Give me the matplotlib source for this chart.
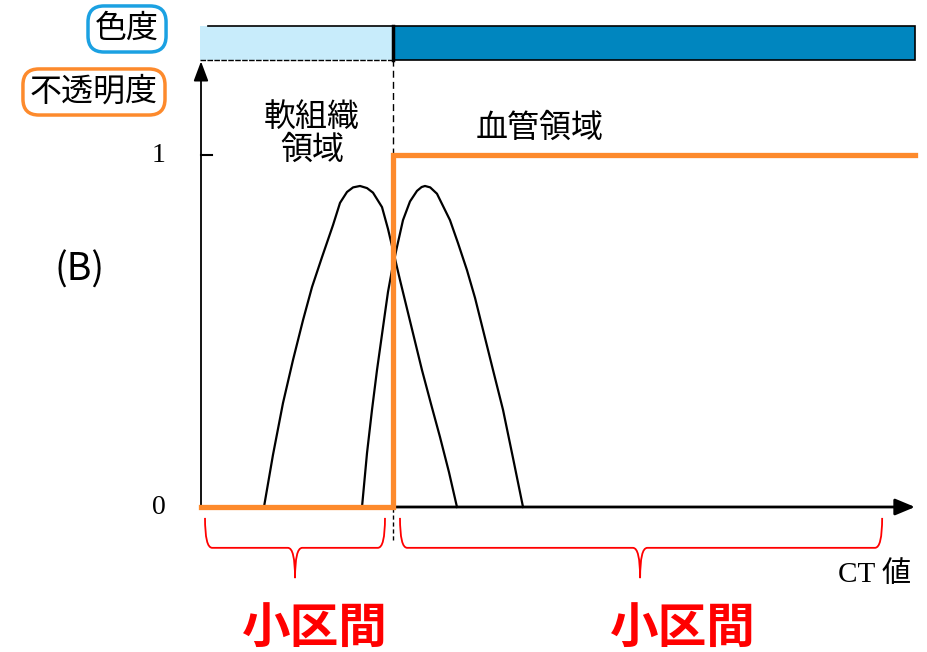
import matplotlib
matplotlib.use("Agg")
import matplotlib.pyplot as plt
from matplotlib.patches import Rectangle
from matplotlib.path import Path
from matplotlib.patches import PathPatch

plt.rcParams['font.family'] = ['Noto Sans CJK JP', 'DejaVu Sans']

# ---- data (CT value axis 0..100, opacity 0..1) ----
soft_x = [8.82, 10.08, 11.48, 12.89, 14.29, 15.55, 16.95, 18.49, 19.47, 20.45, 21.30, 22.27,
          23.25, 24.09, 25.35, 26.19, 27.87, 29.41, 30.95, 32.21, 33.47, 34.73, 35.85]
soft_y = [0.0, 0.148, 0.295, 0.418, 0.531, 0.625, 0.710, 0.801, 0.864, 0.895, 0.908, 0.912,
          0.906, 0.893, 0.852, 0.790, 0.645, 0.517, 0.389, 0.293, 0.199, 0.099, 0.0]
vessel_x = [22.55, 23.25, 23.95, 24.65, 25.77, 26.19, 26.75, 27.45, 28.29, 29.27, 30.25,
            30.90, 31.37, 32.10, 33.05, 34.87, 35.99, 37.25, 38.38, 39.50, 40.90, 42.30, 43.70, 45.10]
vessel_y = [0.0, 0.153, 0.276, 0.389, 0.551, 0.611, 0.673, 0.739, 0.815, 0.868, 0.898,
            0.909, 0.912, 0.908, 0.890, 0.815, 0.750, 0.673, 0.594, 0.503, 0.389, 0.276, 0.139, 0.0]
threshold = 26.9
x_max = 100
opacity_x = [0, threshold, threshold, x_max]
opacity_y = [0, 0, 1, 1]
ytick_labels = ["0", "1"]
ytick_values = [0, 1]

ORANGE = "#FD8A2C"
fig = plt.figure(figsize=(9.27, 6.52), dpi=100)
ax = fig.add_axes([0, 0, 1, 1])
ax.set_xlim(-201 / 7.14, (927 - 201) / 7.14)
ax.set_ylim(-145 / 352, 507 / 352)
ax.axis('off')

# colour bar at top
yb0, yb1 = 1.270, 1.366
ax.add_patch(Rectangle((-0.2, yb0), threshold + 0.2, yb1 - yb0, facecolor="#C8ECFB",
                       edgecolor="none", zorder=1))
ax.add_patch(Rectangle((threshold, yb0), x_max - threshold, yb1 - yb0, facecolor="#0086BF",
                       edgecolor="black", linewidth=1.2, zorder=1))
ax.plot([1.0, threshold], [yb1, yb1], color="black", lw=1.2, zorder=2)
ax.plot([-0.2, threshold], [yb0, yb0], color="black", lw=1.0, ls=(0, (4, 1)), zorder=2)
ax.plot([threshold, threshold], [yb0, yb1], color="black", lw=2.5, zorder=2)

# dashed threshold line
ax.plot([threshold, threshold], [1.0, yb0], color="black", lw=1.0, ls=(0, (5, 3)), zorder=2)
ax.plot([threshold, threshold], [-0.095, 0], color="black", lw=1.0, ls=(0, (3, 2)), zorder=2)

# axes with arrows
ax.annotate("", xy=(0, 1.266), xytext=(0, 0),
            arrowprops=dict(arrowstyle="-|>,head_length=1.2,head_width=0.45",
                            color="black", lw=1.3, shrinkA=0, shrinkB=0), zorder=3)
ax.annotate("", xy=(x_max, 0), xytext=(0, 0),
            arrowprops=dict(arrowstyle="-|>,head_length=1.2,head_width=0.5",
                            color="black", lw=2.0, shrinkA=0, shrinkB=0), zorder=3)
ax.plot([0, 1.6], [1, 1], color="black", lw=1.5, zorder=3)

# curves
ax.plot(soft_x, soft_y, color="black", lw=1.6, zorder=4)
ax.plot(vessel_x, vessel_y, color="black", lw=1.6, zorder=4)
ax.plot(opacity_x, opacity_y, color=ORANGE, lw=3.8, zorder=5, solid_joinstyle="miter")

# tick labels
for v, lab in zip(ytick_values, ytick_labels):
    ax.text(-5.9, v, lab, fontsize=20, family="Liberation Serif", ha="center", va="center")

# labels
ax.text(-10.36, 1.358, "色度", fontsize=23, ha="center", va="center",
        bbox=dict(boxstyle="round,pad=0.22,rounding_size=0.5", fc="white", ec="#1BA1E2", lw=2.5))
ax.text(-14.99, 1.179, "不透明度", fontsize=23, ha="center", va="center",
        bbox=dict(boxstyle="round,pad=0.22,rounding_size=0.5", fc="white", ec=ORANGE, lw=2.5))
ax.text(15.55, 1.062, "軟組織\n領域", fontsize=23, ha="center", va="center", linespacing=1.05)
ax.text(47.48, 1.077, "血管領域", fontsize=23, ha="center", va="center")
ax.text(-16.95, 0.673, "(B)", fontsize=27, ha="center", va="center")
ax.text(94.3, -0.193, "CT 値", fontsize=21, ha="center", va="center",
        family=["Liberation Serif", "Noto Sans CJK JP"])

# braces
def brace(x0, x1, xm, ytop=-0.031, ymid=-0.116, ytip=-0.202):
    r = 1.0
    verts = [(x0, ytop), (x0, ymid), (x0 + r, ymid),
             (xm - r, ymid), (xm, ymid), (xm, ytip),
             (xm, ymid), (xm + r, ymid),
             (x1 - r, ymid), (x1, ymid), (x1, ytop)]
    codes = [Path.MOVETO, Path.CURVE3, Path.CURVE3,
             Path.LINETO, Path.CURVE3, Path.CURVE3,
             Path.CURVE3, Path.CURVE3,
             Path.LINETO, Path.CURVE3, Path.CURVE3]
    ax.add_patch(PathPatch(Path(verts, codes), fc="none", ec="#FF0000", lw=1.3))

brace(0.56, 25.77, 13.17)
brace(27.87, 95.4, 61.5)

ax.text(15.97, -0.344, "小区間", fontsize=35, color="#FF0000", fontweight="bold",
        ha="center", va="center")
ax.text(67.51, -0.344, "小区間", fontsize=35, color="#FF0000", fontweight="bold",
        ha="center", va="center")

fig.savefig("out.png", dpi=100)
